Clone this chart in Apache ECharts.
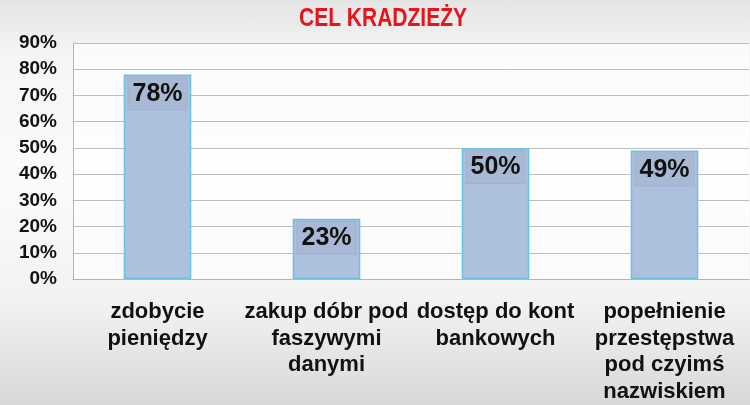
<!DOCTYPE html>
<html>
<head>
<meta charset="utf-8">
<script src="https://cdn.jsdelivr.net/npm/echarts@6/dist/echarts.min.js"></script>
<style>
html,body{margin:0;padding:0;width:750px;height:405px;overflow:hidden;
background:linear-gradient(to bottom,#e4e4e4 0%,#f6f6f6 14%,#fbfbfb 45%,#f2f2f2 75%,#d8d8d8 100%);}
#c{width:750px;height:405px;}
</style>
</head>
<body>
<div id="c"></div>
<script>
const titleText = 'CEL KRADZIEŻY';
const categories = ['zdobycie\npieniędzy', 'zakup dóbr pod\nfaszywymi\ndanymi', 'dostęp do kont\nbankowych', 'popełnienie\nprzestępstwa\npod czyimś\nnazwiskiem'];
const values = [78, 23, 50, 49];
const yTicks = { min: 0, max: 90, interval: 10 };

const chart = echarts.init(document.getElementById('c'));
chart.setOption({
  backgroundColor: 'transparent',
  animation: false,
  graphic: [{
    type: 'text',
    x: 383, y: 19,
    scaleX: 0.84,
    style: {
      text: titleText,
      align: 'center', verticalAlign: 'middle',
      fontFamily: '"Liberation Sans",Arial,sans-serif',
      fontWeight: 'bold', fontSize: 25, fill: '#e8141c'
    }
  }],
  grid: { left: 73, right: 1, top: 43, bottom: 123, containLabel: false,
    show: true, backgroundColor: 'rgba(255,255,255,0.6)', borderWidth: 0 },
  xAxis: {
    type: 'category',
    data: categories,
    axisLine: { show: true, lineStyle: { color: '#b4b4b4', width: 1 } },
    axisTick: { show: false },
    axisLabel: {
      interval: 0, margin: 20,
      fontFamily: '"Liberation Sans",Arial,sans-serif',
      fontWeight: 'bold', fontSize: 22, lineHeight: 26.5, color: '#111'
    }
  },
  yAxis: {
    type: 'value',
    min: yTicks.min, max: yTicks.max, interval: yTicks.interval,
    axisLine: { show: true, lineStyle: { color: '#b4b4b4', width: 1 } },
    axisTick: { show: false },
    splitLine: { lineStyle: { color: '#bdbdbd', width: 1 } },
    axisLabel: {
      formatter: '{value}%', margin: 16,
      fontFamily: '"Liberation Sans",Arial,sans-serif',
      fontWeight: 'bold', fontSize: 19, color: '#111'
    }
  },
  series: [{
    type: 'bar',
    data: values,
    barWidth: '40%',
    itemStyle: { color: '#adc0dd', borderColor: '#6cc3de', borderWidth: 1.5 },
    label: {
      show: true, position: 'insideTop', distance: 3,
      formatter: '{c}%',
      fontFamily: '"Liberation Sans",Arial,sans-serif',
      fontWeight: 'bold', fontSize: 25, color: '#111',
      backgroundColor: '#a8b9d5', borderColor: '#9fb1ce', borderWidth: 1,
      padding: [4, 4, 3, 4]
    }
  }]
});
</script>
</body>
</html>
